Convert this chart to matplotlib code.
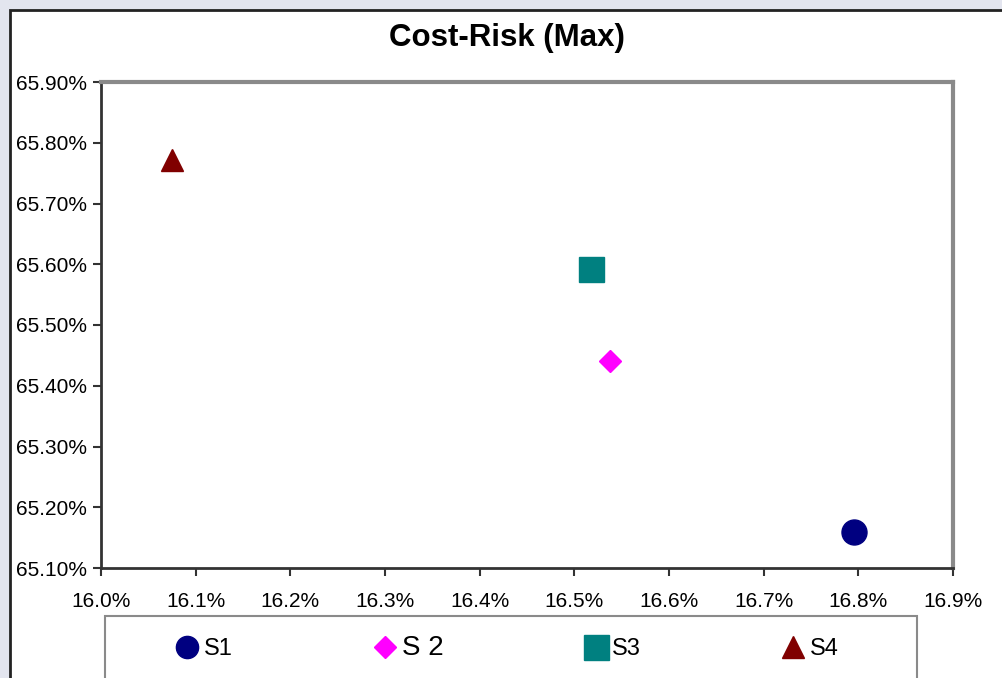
import matplotlib
matplotlib.use("Agg")
import matplotlib.pyplot as plt
from matplotlib.patches import Rectangle
from matplotlib.lines import Line2D

# ── Datos ──────────────────────────────────────────────────────────────────────
series   = ["S1", "S2", "S3", "S4"]
cost     = [16.795, 16.538, 16.518, 16.075]   # eje x, %
risk     = [65.159, 65.441, 65.592, 65.772]   # eje y, %
colors   = ["#000080", "#FF00FF", "#008080", "#800000"]
markers  = ["o", "D", "s", "^"]
msizes   = [18, 11, 18, 16]

x_ticks  = [16.0, 16.1, 16.2, 16.3, 16.4, 16.5, 16.6, 16.7, 16.8, 16.9]
x_labels = ["16.0%", "16.1%", "16.2%", "16.3%", "16.4%",
            "16.5%", "16.6%", "16.7%", "16.8%", "16.9%"]
y_ticks  = [65.1, 65.2, 65.3, 65.4, 65.5, 65.6, 65.7, 65.8, 65.9]
y_labels = ["65.10%", "65.20%", "65.30%", "65.40%", "65.50%",
            "65.60%", "65.70%", "65.80%", "65.90%"]

plt.rcParams["font.family"] = ["Liberation Sans", "DejaVu Sans"]

W, H = 1002, 678
fig = plt.figure(figsize=(W / 100, H / 100), dpi=100, facecolor="#E3E5EF")

# area del grafico (blanca, borde oscuro, recortada a la derecha y abajo)
fig.patches.append(Rectangle((10 / W, -0.1), 1.2, 1 - 10 / H + 0.1,
                             transform=fig.transFigure, facecolor="white",
                             edgecolor="#222222", linewidth=2, zorder=0))

ax = fig.add_axes([101 / W, 1 - 568 / H, 852 / W, 486 / H])
ax.set_zorder(3)
for name, x, y, c, m, ms in zip(series, cost, risk, colors, markers, msizes):
    ax.plot([x], [y], linestyle="none", marker=m, markersize=ms,
            color=c, markeredgecolor=c, clip_on=False, zorder=3)

ax.set_xlim(x_ticks[0], x_ticks[-1])
ax.set_ylim(y_ticks[0], y_ticks[-1])
ax.set_xticks(x_ticks)
ax.set_xticklabels(x_labels)
ax.set_yticks(y_ticks)
ax.set_yticklabels(y_labels)
ax.tick_params(direction="out", length=6, width=1.5, color="#333333",
               labelsize=15)
ax.tick_params(axis="x", pad=11)
ax.tick_params(axis="y", pad=4)

for side in ("left", "bottom"):
    ax.spines[side].set_color("#333333")
    ax.spines[side].set_linewidth(2)
for side in ("top", "right"):
    ax.spines[side].set_color("#8A8A8A")
    ax.spines[side].set_linewidth(3)

fig.text(507 / W, 1 - 38 / H, "Cost-Risk (Max)", ha="center", va="center",
         fontsize=22.5, fontweight="bold", zorder=4)

# leyenda (caja recortada en el borde inferior)
fig.patches.append(Rectangle((105 / W, -0.1), 812 / W, 1 - 616 / H + 0.1,
                             transform=fig.transFigure, facecolor="white",
                             edgecolor="#8A8A8A", linewidth=1.5, zorder=1))
handles = [Line2D([], [], linestyle="none", marker=m, markersize=ms,
                  color=c, markeredgecolor=c)
           for c, m, ms in zip(colors, markers, [16, 11.5, 18, 16])]
labels = ["S1", "S 2", "S3", "S4"]
leg = fig.legend(handles, labels, loc="center", ncol=4,
                 bbox_to_anchor=(506 / W, 1 - 648 / H), frameon=False,
                 fontsize=17, handletextpad=0.1, columnspacing=5.85,
                 handlelength=1.2)
leg.set_zorder(4)
leg.get_texts()[1].set_fontsize(20)

fig.savefig("out.png", dpi=100, facecolor=fig.get_facecolor())
